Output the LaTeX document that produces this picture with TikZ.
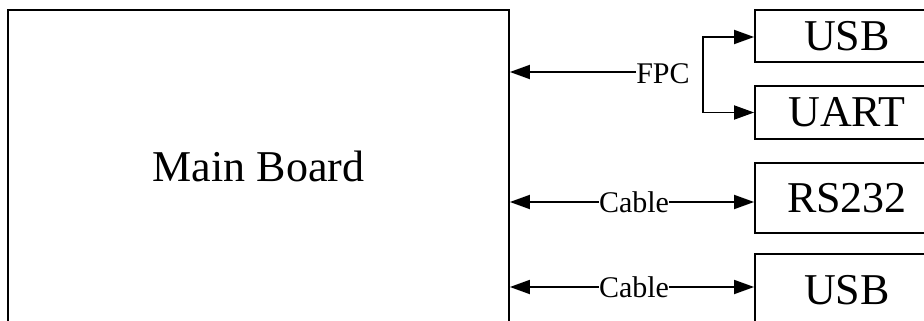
\documentclass[tikz,border=0pt]{standalone}
\usepackage{fontspec}
\setmainfont{Liberation Serif}
\usetikzlibrary{arrows.meta}
\tikzset{
  block/.style={draw, line width=1.8pt, inner sep=0pt, font=\fontsize{44}{48}\selectfont},
  lbl/.style={inner sep=0pt, font=\fontsize{30}{34}\selectfont},
  wire/.style={line width=1.8pt},
  tip/.style={wire, -{Triangle[length=20pt,width=14pt]}},
}
\begin{document}
\begin{tikzpicture}[x=1pt,y=1pt]
  \useasboundingbox (0,0) rectangle (924,-321);
  \clip (0,0) rectangle (924,-321);
  % main board and peripheral blocks
  \node[block, minimum width=501pt, minimum height=312pt] (board) at (258.5,-166) {Main Board};
  \node[block, minimum width=184pt, minimum height=52pt] (usbA) at (847,-36) {USB};
  \node[block, minimum width=184pt, minimum height=53pt] (uart) at (847,-112.5) {UART};
  \node[block, minimum width=184pt, minimum height=70pt] (rs) at (847,-198) {RS232};
  \node[block, minimum width=184pt, minimum height=72pt] (usbB) at (847,-290) {USB};
  % link labels
  \node[lbl] (fpc) at (663,-74) {FPC};
  \node[lbl] (cabA) at (634,-202) {Cable};
  \node[lbl] (cabB) at (634,-287) {Cable};
  % FPC link with fork to USB and UART
  \coordinate (fork) at (703,-75);
  \draw[tip] ([yshift=2pt]fpc.west) -- (board.east |- {(0,-72)});
  \draw[tip] (fork) |- ([yshift=-1pt]usbA.west);
  \draw[tip] (fork) |- (uart.west);
  % cable links
  \draw[tip] (cabA.west) -- (board.east |- cabA.west);
  \draw[tip] (cabA.east) -- (rs.west |- cabA.east);
  \draw[tip] (cabB.west) -- (board.east |- cabB.west);
  \draw[tip] (cabB.east) -- (usbB.west |- cabB.east);
\end{tikzpicture}
\end{document}
